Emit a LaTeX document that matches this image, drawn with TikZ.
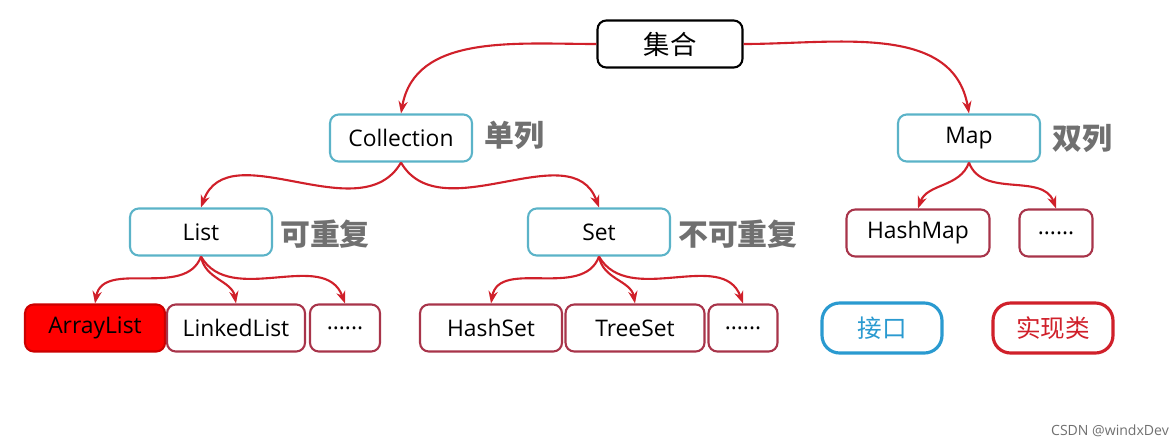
\documentclass[tikz,border=0pt]{standalone}
\usepackage{fontspec}
\setmainfont{Open Sans}
\newfontfamily\cjk{Noto Sans CJK SC}
\usetikzlibrary{arrows.meta}
\definecolor{boxteal}{HTML}{5BB3C8}
\definecolor{boxred}{HTML}{A8344A}
\definecolor{arrred}{HTML}{D0202A}
\definecolor{labelgray}{HTML}{707070}
\definecolor{keyblue}{HTML}{2A9AD0}
\tikzset{
  base/.style={rounded corners=5pt, line width=1.2pt, minimum height=0.94cm, font=\fontsize{13}{15}\selectfont},
  iface/.style={base, draw=boxteal, minimum width=2.84cm},
  impl/.style={base, draw=boxred, minimum width=2.8cm},
  dots/.style={base, draw=boxred, minimum width=1.4cm},
  note/.style={text=labelgray, font=\cjk\bfseries\fontsize{17}{19}\selectfont, anchor=west},
  conn/.style={draw=arrred, line width=1.2pt, -{Stealth[length=7pt]}},
}
\begin{document}
\begin{tikzpicture}[x=0.02cm, y=-0.02cm]
\useasboundingbox (0,0) rectangle (1174,443);
% top levels
\node[base, draw=black, minimum width=2.9cm, font=\cjk\fontsize{15}{17}\selectfont] (root) at (670,44) {集合};
\node[iface] (coll) at (401,138) {Collection};
\node[note] (collnote) at (478,135) {单列};
\node[iface] (map) at (969,138) {Map};
\node[note] (mapnote) at (1046,138) {双列};
\node[iface] (list) at (201,232) {List};
\node[note] (listnote) at (274,234) {可重复};
\node[iface] (set) at (599,232) {Set};
\node[note] (setnote) at (672,234) {不可重复};
\node[impl, minimum width=2.86cm] (hashmap) at (918,233) {HashMap};
\node[dots, minimum width=1.46cm] (mapdots) at (1056,233) {......};
% leaves
\node[impl, fill=red, draw=red!80!black] (arraylist) at (95,328) {ArrayList};
\node[impl, minimum width=2.76cm] (linkedlist) at (236,328) {LinkedList};
\node[dots] (listdots) at (345,328) {......};
\node[impl, minimum width=2.84cm] (hashset) at (491,328) {HashSet};
\node[impl, minimum width=2.78cm] (treeset) at (635,328) {TreeSet};
\node[dots, minimum width=1.38cm] (setdots) at (743,328) {......};
% legend
\node[base, draw=keyblue, line width=1.8pt, rounded corners=10pt, minimum width=2.4cm, minimum height=1cm, text=keyblue, font=\cjk\fontsize{14}{16}\selectfont] (keyiface) at (882,328) {接口};
\node[base, draw=arrred, line width=1.8pt, rounded corners=10pt, minimum width=2.4cm, minimum height=1cm, text=arrred, font=\cjk\fontsize{14}{16}\selectfont] (keyimpl) at (1053,328) {实现类};
\node[text=labelgray, font=\fontsize{8}{10}\selectfont] (mark) at (1110,431) {CSDN @windxDev};
% connectors
\draw[conn] (root.west) to[out=180, in=80] (coll.north);
\draw[conn] (root.east) to[out=0, in=100] (map.north);
\draw[conn] (coll.south) to[out=-120, in=70] (list.north);
\draw[conn] (coll.south) to[out=-60, in=110] (set.north);
\draw[conn] (map.south) to[out=-110, in=70] (hashmap.north);
\draw[conn] (map.south) to[out=-70, in=110] (mapdots.north);
\draw[conn] (list.south) to[out=-110, in=80] (arraylist.north);
\draw[conn] (list.south) to[out=-80, in=100] (linkedlist.north);
\draw[conn] (list.south) to[out=-60, in=110] (listdots.north);
\draw[conn] (set.south) to[out=-110, in=80] (hashset.north);
\draw[conn] (set.south) to[out=-80, in=100] (treeset.north);
\draw[conn] (set.south) to[out=-60, in=110] (setdots.north);
\end{tikzpicture}
\end{document}
